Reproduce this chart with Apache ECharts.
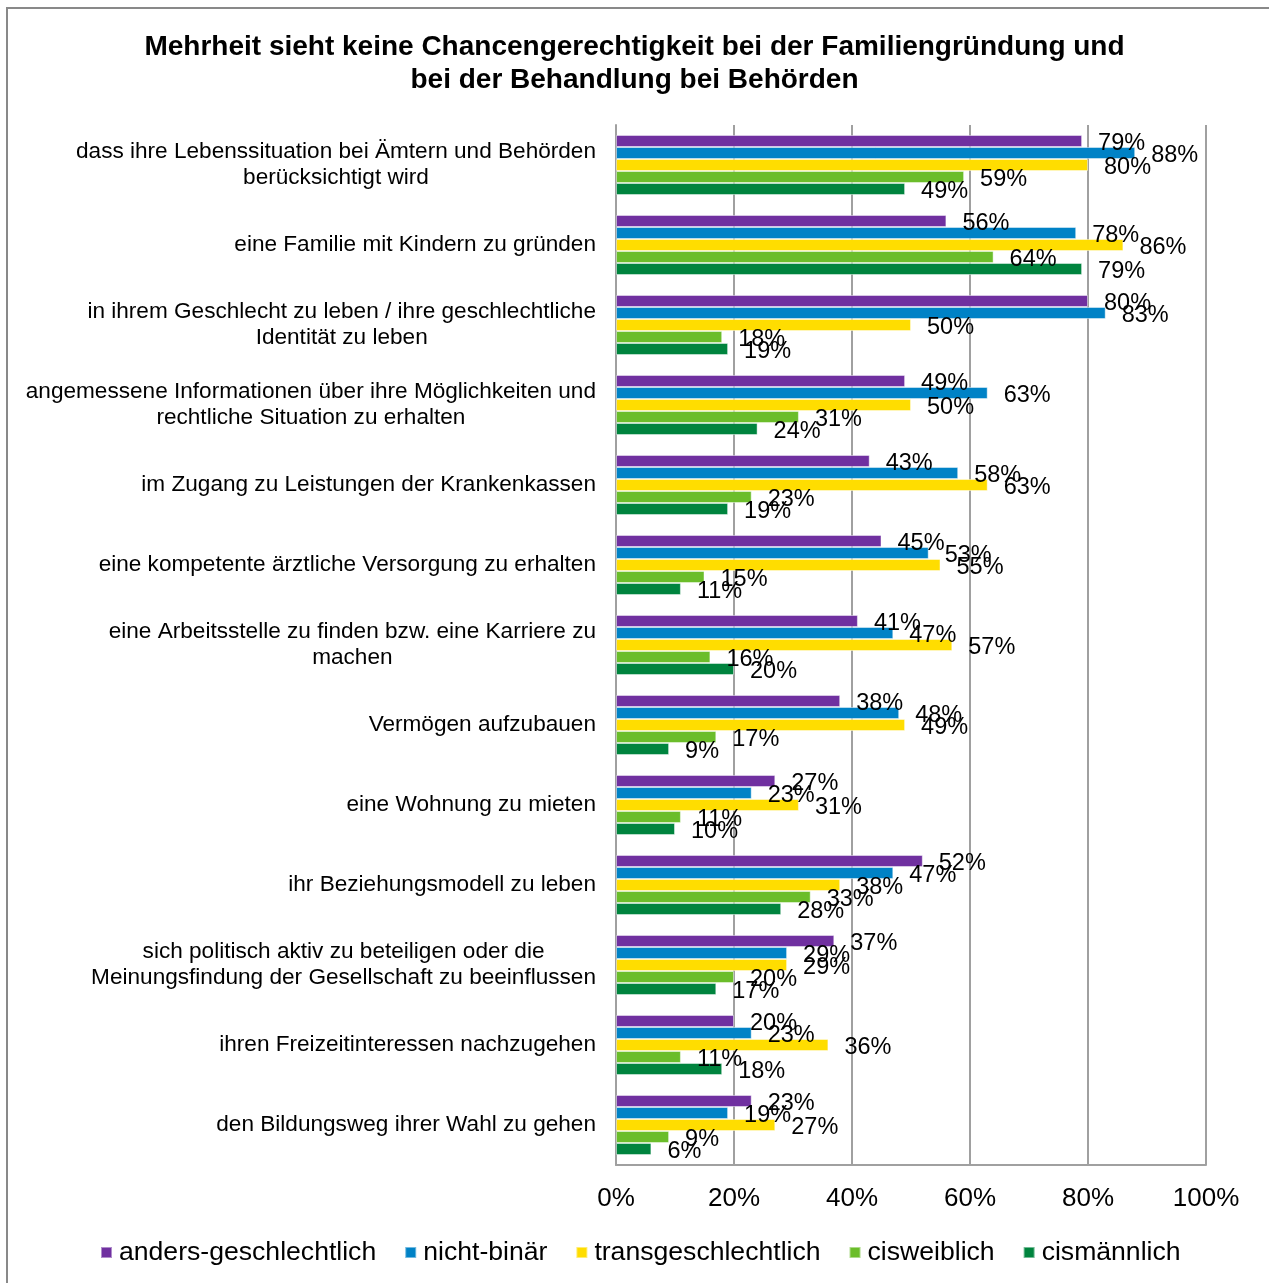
<!DOCTYPE html>
<html>
<head>
<meta charset="utf-8">
<script src="https://cdn.jsdelivr.net/npm/echarts@6/dist/echarts.min.js"></script>
<style>
html,body{margin:0;padding:0;background:#fff;}
#chart{width:1269px;height:1283px;}
</style>
</head>
<body>
<div id="chart"></div>
<script>
const titleText = "Mehrheit sieht keine Chancengerechtigkeit bei der Familiengründung und\nbei der Behandlung bei Behörden";
const categories = [
  "dass ihre Lebenssituation bei Ämtern und Behörden\nberücksichtigt wird",
  "eine Familie mit Kindern zu gründen",
  "in ihrem Geschlecht zu leben / ihre geschlechtliche\nIdentität zu leben",
  "angemessene Informationen über ihre Möglichkeiten und\nrechtliche Situation zu erhalten",
  "im Zugang zu Leistungen der Krankenkassen",
  "eine kompetente ärztliche Versorgung zu erhalten",
  "eine Arbeitsstelle zu finden bzw. eine Karriere zu\nmachen",
  "Vermögen aufzubauen",
  "eine Wohnung zu mieten",
  "ihr Beziehungsmodell zu leben",
  "sich politisch aktiv zu beteiligen oder die\nMeinungsfindung der Gesellschaft zu beeinflussen",
  "ihren Freizeitinteressen nachzugehen",
  "den Bildungsweg ihrer Wahl zu gehen"
];
const seriesNames = ["anders-geschlechtlich", "nicht-binär", "transgeschlechtlich", "cisweiblich", "cismännlich"];
const andersGeschlechtlich = [79, 56, 80, 49, 43, 45, 41, 38, 27, 52, 37, 20, 23];
const nichtBinaer          = [88, 78, 83, 63, 58, 53, 47, 48, 23, 47, 29, 23, 19];
const transgeschlechtlich  = [80, 86, 50, 50, 63, 55, 57, 49, 31, 38, 29, 36, 27];
const cisweiblich          = [59, 64, 18, 31, 23, 15, 16, 17, 11, 33, 20, 11, 9];
const cismaennlich         = [49, 79, 19, 24, 19, 11, 20, 9, 10, 28, 17, 18, 6];
const xTicks = [0, 20, 40, 60, 80, 100];
const colors = ["#7030A0", "#0082C6", "#FFDD00", "#6BBD2A", "#00843E"];

const seriesData = [andersGeschlechtlich, nichtBinaer, transgeschlechtlich, cisweiblich, cismaennlich];
const FONT = "Liberation Sans, Arial, sans-serif";

const chart = echarts.init(document.getElementById('chart'), null, {renderer: 'canvas'});
chart.setOption({
  animation: false,
  backgroundColor: '#fff',
  color: colors,
  graphic: [{
    type: 'rect', shape: {x: 7, y: 8, width: 1400, height: 1400},
    style: {fill: 'none', stroke: '#898989', lineWidth: 2}, silent: true, z: -1
  }],
  title: {
    text: titleText,
    left: 'center', top: 26,
    textStyle: {fontFamily: FONT, fontSize: 28, fontWeight: 'bold', color: '#000', lineHeight: 33}
  },
  legend: {
    bottom: 12, left: 95,
    itemWidth: 11, itemHeight: 11, itemGap: 28,
    icon: 'rect',
    textStyle: {fontFamily: FONT, fontSize: 26.6, color: '#000', padding: [0, 0, 0, 2]},
    data: seriesNames
  },
  grid: {left: 616, right: 63, top: 125, bottom: 118, containLabel: false},
  xAxis: {
    type: 'value', min: 0, max: 100, interval: 20,
    axisLine: {show: true, lineStyle: {color: '#a0a0a0', width: 2}},
    axisTick: {show: false},
    splitLine: {show: true, lineStyle: {color: '#a0a0a0', width: 2}},
    axisLabel: {
      margin: 21, fontFamily: FONT, fontSize: 26, color: '#000',
      formatter: v => xTicks.includes(v) ? v + '%' : ''
    }
  },
  yAxis: {
    type: 'category', inverse: true, data: categories,
    axisLine: {show: true, lineStyle: {color: '#a0a0a0', width: 2}},
    axisTick: {show: false},
    axisLabel: {
      margin: 20, color: '#000', align: 'right',
      formatter: v => v.split('\n').map(l => '{c|' + l + '}').join('\n'),
      rich: {c: {align: 'center', fontFamily: FONT, fontSize: 22.6, lineHeight: 26, color: '#000'}}
    }
  },
  series: seriesNames.map((name, i) => ({
    name: name,
    type: 'bar',
    data: seriesData[i],
    barGap: '0%',
    barCategoryGap: '25%',
    itemStyle: {color: colors[i], borderColor: 'rgba(255,255,255,0.45)', borderWidth: 1},
    label: {
      show: true, position: 'right', distance: 16, offset: [0, 3],
      fontFamily: FONT, fontSize: 23.5, color: '#000',
      formatter: '{c}%'
    }
  }))
});
</script>
</body>
</html>
